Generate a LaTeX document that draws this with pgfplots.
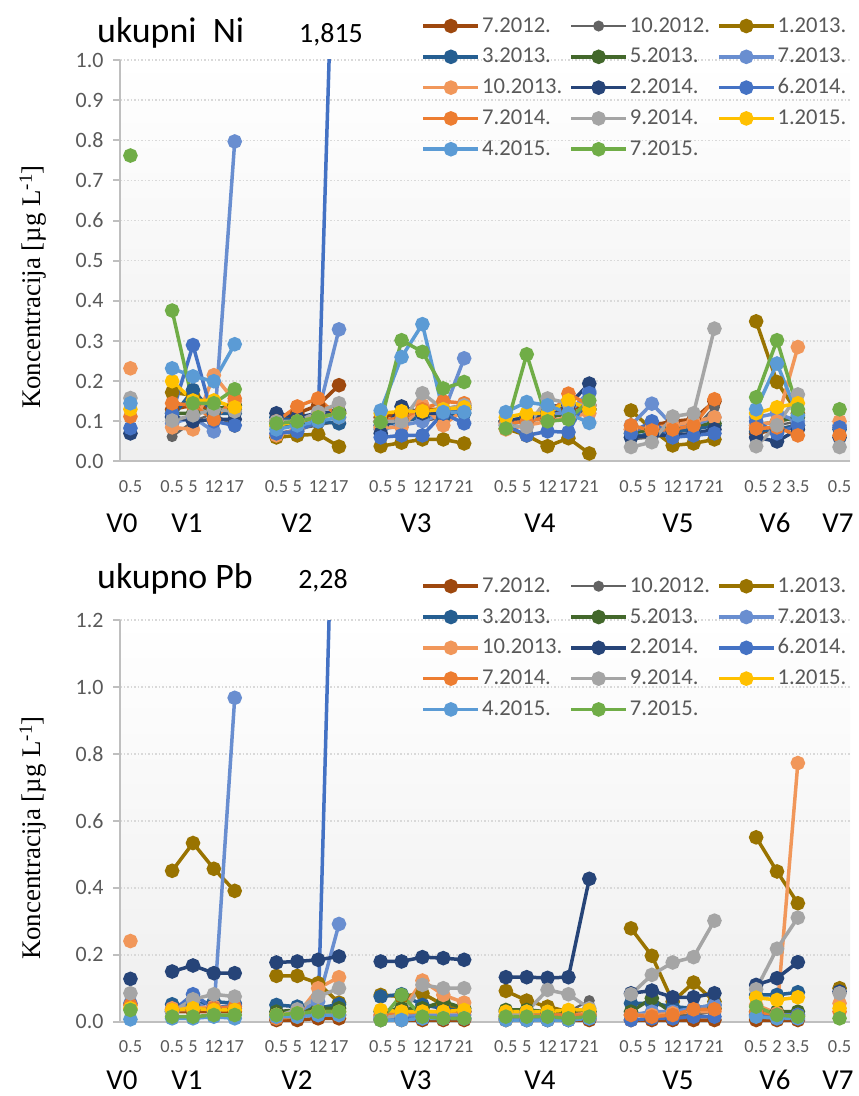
\documentclass[border=0pt]{standalone}
\usepackage{fontspec}
\setmainfont{Carlito}
\newfontfamily\timesfont{Liberation Serif}
\usepackage{pgfplots}
\usepackage{pgfplotstable}
\pgfplotsset{compat=1.18}

\definecolor{sA}{HTML}{9E480E}
\definecolor{sB}{HTML}{636363}
\definecolor{sC}{HTML}{997300}
\definecolor{sD}{HTML}{255E91}
\definecolor{sE}{HTML}{43682B}
\definecolor{sF}{HTML}{698ED0}
\definecolor{sG}{HTML}{F1975A}
\definecolor{sH}{HTML}{264478}
\definecolor{sI}{HTML}{4472C4}
\definecolor{sJ}{HTML}{ED7D31}
\definecolor{sK}{HTML}{A5A5A5}
\definecolor{sL}{HTML}{FFC000}
\definecolor{sM}{HTML}{5B9BD5}
\definecolor{sN}{HTML}{70AD47}
\definecolor{txtgray}{HTML}{595959}
\definecolor{spine}{HTML}{BFBFBF}
\definecolor{gridc}{HTML}{D9D9D9}
\definecolor{bgc}{HTML}{EFEFEF}

\pgfplotstableread{
x a b c d e f g h i j k l m n
0 nan nan nan nan nan nan 0.232 0.070 0.083 0.112 0.158 0.130 0.145 0.762
1 nan nan nan nan nan nan nan nan nan nan nan nan nan nan
2 0.130 0.062 0.172 0.110 0.120 0.095 0.085 0.112 0.120 0.145 0.102 0.200 0.232 0.376
3 0.140 0.100 0.165 0.178 0.120 0.110 0.080 0.100 0.290 0.140 0.115 0.152 0.212 0.145
4 0.130 0.120 0.130 0.120 0.130 0.075 0.215 0.105 0.100 0.105 0.130 0.152 0.200 0.145
5 0.140 0.085 0.130 0.120 0.140 0.797 0.150 0.105 0.090 0.157 0.125 0.135 0.292 0.180
6 nan nan nan nan nan nan nan nan nan nan nan nan nan nan
7 0.100 0.070 0.060 0.110 0.090 0.090 0.065 0.120 0.070 0.100 0.100 0.090 0.080 0.095
8 0.120 0.080 0.065 0.100 0.095 0.100 0.080 0.110 0.075 0.137 0.100 0.100 0.090 0.100
9 0.140 0.090 0.068 0.100 0.110 0.120 0.110 0.120 0.100 0.157 0.123 0.110 0.100 0.110
10 0.190 0.100 0.037 0.095 0.120 0.329 0.120 0.125 1.815 0.110 0.145 0.120 0.110 0.120
11 nan nan nan nan nan nan nan nan nan nan nan nan nan nan
12 0.110 0.080 0.038 0.090 0.100 0.080 0.085 0.070 0.060 0.100 0.100 0.120 0.127 0.098
13 0.120 0.090 0.047 0.100 0.110 0.090 0.085 0.137 0.065 0.110 0.100 0.125 0.260 0.302
14 0.130 0.100 0.055 0.110 0.120 0.100 0.140 0.120 0.065 0.130 0.170 0.125 0.342 0.273
15 0.130 0.110 0.055 0.110 0.120 0.120 0.090 0.120 0.120 0.150 0.130 0.130 0.123 0.182
16 0.140 0.120 0.045 0.120 0.130 0.257 0.130 0.135 0.095 0.145 0.140 0.135 0.123 0.198
17 nan nan nan nan nan nan nan nan nan nan nan nan nan nan
18 0.100 0.090 0.082 0.100 0.100 0.100 0.080 0.100 0.090 0.095 0.090 0.110 0.123 0.082
19 0.110 0.100 0.065 0.100 0.110 0.110 0.090 0.110 0.065 0.100 0.086 0.120 0.148 0.267
20 0.120 0.140 0.038 0.110 0.110 0.120 0.100 0.120 0.075 0.110 0.157 0.120 0.140 0.100
21 0.130 0.140 0.058 0.120 0.120 0.120 0.110 0.140 0.073 0.169 0.145 0.152 0.120 0.105
22 0.140 0.150 0.020 0.130 0.130 0.175 0.120 0.194 0.170 0.140 0.140 0.130 0.096 0.152
23 nan nan nan nan nan nan nan nan nan nan nan nan nan nan
24 0.080 0.055 0.127 0.060 0.070 0.090 0.080 0.060 0.070 0.090 0.036 nan nan nan
25 0.090 0.060 0.080 0.070 0.080 0.144 0.085 0.065 0.100 0.077 0.048 nan nan nan
26 0.100 0.070 0.040 0.075 0.085 0.090 0.090 0.065 0.060 0.080 0.112 nan nan nan
27 0.105 0.080 0.045 0.080 0.090 0.090 0.100 0.070 0.065 0.090 0.120 nan nan nan
28 0.150 0.135 0.055 0.090 0.095 0.110 0.110 0.080 0.070 0.155 0.331 nan nan nan
29 nan nan nan nan nan nan nan nan nan nan nan nan nan nan
30 0.070 0.080 0.349 0.075 0.090 0.110 0.090 0.060 0.100 0.082 0.038 0.120 0.130 0.160
31 0.080 0.090 0.198 0.080 0.100 0.120 0.100 0.050 0.070 0.085 0.090 0.135 0.244 0.302
32 0.090 0.100 0.120 0.090 0.110 0.100 0.285 0.080 0.090 0.065 0.167 0.145 0.115 0.130
33 nan nan nan nan nan nan nan nan nan nan nan nan nan nan
34 nan nan nan 0.080 nan 0.090 0.100 0.060 0.085 0.065 0.036 nan nan 0.130
}\nitable

\pgfplotstableread{
x a b c d e f g h i j k l m n
0 nan nan nan nan nan nan 0.241 0.128 0.055 0.050 0.085 0.040 0.007 0.035
1 nan nan nan nan nan nan nan nan nan nan nan nan nan nan
2 0.030 0.040 0.451 0.052 0.035 0.030 0.040 0.150 0.030 0.035 0.030 0.035 0.010 0.015
3 0.030 0.040 0.534 0.050 0.035 0.060 0.040 0.168 0.082 0.035 0.067 0.040 0.010 0.015
4 0.030 0.040 0.457 0.060 0.040 0.030 0.045 0.145 0.040 0.040 0.082 0.035 0.015 0.020
5 0.030 0.050 0.391 0.055 0.040 0.968 0.045 0.145 0.050 0.045 0.075 0.035 0.010 0.020
6 nan nan nan nan nan nan nan nan nan nan nan nan nan nan
7 0.005 0.010 0.137 0.050 0.030 0.020 0.020 0.177 0.010 0.010 0.015 0.020 0.015 0.020
8 0.005 0.020 0.137 0.045 0.035 0.030 0.020 0.180 0.020 0.015 0.037 0.025 0.015 0.025
9 0.010 0.030 0.115 0.040 0.040 0.060 0.100 0.185 0.020 0.030 0.075 0.030 0.020 0.030
10 0.010 0.040 0.057 0.052 0.040 0.292 0.133 0.195 2.280 0.020 0.100 0.030 0.020 0.030
11 nan nan nan nan nan nan nan nan nan nan nan nan nan nan
12 0.005 0.030 0.080 0.075 0.030 0.015 0.020 0.180 0.010 0.020 0.010 0.035 0.005 0.005
13 0.005 0.030 0.075 0.082 0.040 0.020 0.030 0.180 0.010 0.025 0.020 0.030 0.005 0.080
14 0.005 0.030 0.085 0.050 0.040 0.020 0.123 0.193 0.010 0.030 0.110 0.030 0.010 0.015
15 0.005 0.030 0.050 0.040 0.060 0.020 0.080 0.190 0.010 0.030 0.100 0.030 0.010 0.010
16 0.005 0.030 0.030 0.030 0.040 0.020 0.057 0.185 0.010 0.030 0.100 0.035 0.010 0.010
17 nan nan nan nan nan nan nan nan nan nan nan nan nan nan
18 0.005 0.030 0.092 0.030 0.035 0.010 0.020 0.133 0.010 0.015 0.020 0.030 0.005 0.015
19 0.005 0.030 0.063 0.030 0.035 0.010 0.020 0.133 0.005 0.015 0.030 0.030 0.005 0.015
20 0.005 0.030 0.045 0.025 0.030 0.010 0.020 0.131 0.005 0.020 0.095 0.030 0.005 0.015
21 0.005 0.030 0.030 0.020 0.030 0.010 0.020 0.133 0.005 0.020 0.082 0.035 0.005 0.010
22 0.005 0.063 0.020 0.030 0.030 0.015 0.025 0.427 0.010 0.020 0.040 0.035 0.010 0.015
23 nan nan nan nan nan nan nan nan nan nan nan nan nan nan
24 0.005 0.020 0.279 0.055 0.030 0.020 0.020 0.085 0.005 0.020 0.082 nan nan nan
25 0.005 0.020 0.197 0.055 0.070 0.030 0.020 0.093 0.010 0.015 0.140 nan nan nan
26 0.005 0.020 0.060 0.045 0.025 0.030 0.025 0.073 0.010 0.020 0.177 nan nan nan
27 0.005 0.020 0.117 0.040 0.030 0.040 0.030 0.073 0.015 0.037 0.193 nan nan nan
28 0.005 0.030 0.060 0.050 0.040 0.050 0.030 0.085 0.015 0.037 0.302 nan nan nan
29 nan nan nan nan nan nan nan nan nan nan nan nan nan nan
30 0.005 0.020 0.551 0.080 0.030 0.020 0.050 0.110 0.020 0.030 0.097 0.072 0.015 0.045
31 0.005 0.020 0.449 0.080 0.030 0.020 0.025 0.130 0.020 0.020 0.218 0.065 0.010 0.020
32 0.005 0.020 0.354 0.088 0.030 0.020 0.773 0.178 0.020 0.015 0.311 0.073 0.010 0.015
33 nan nan nan nan nan nan nan nan nan nan nan nan nan nan
34 nan nan 0.100 nan nan nan 0.055 0.090 nan 0.030 0.085 0.040 nan 0.010
}\pbtable

\pgfplotsset{
  ser/.style={color=#1, mark=*, mark options={solid}, line width=3.5bp, mark size=5.5bp},
  serthin/.style={color=#1, mark=*, mark options={solid}, line width=2.3bp, mark size=4.3bp},
  mystyle/.style={
    scale only axis, width=730bp, height=401.5bp,
    xmin=-0.5, xmax=34.5, ymin=0,
    axis lines*=left,
    axis line style={draw=spine, line width=2bp},
    xtick={0,2,3,4,5,7,8,9,10,12,13,14,15,16,18,19,20,21,22,24,25,26,27,28,30,31,32,34},
    xticklabels={0.5,0.5,5,12,17,0.5,5,12,17,0.5,5,12,17,21,0.5,5,12,17,21,0.5,5,12,17,21,0.5,2,3.5,0.5},
    x tick style={draw=none},
    y tick style={draw=spine, line width=2bp},
    tick align=outside, major tick length=7bp,
    ymajorgrids, major grid style={draw=gridc, line width=1.5bp, dash pattern=on 1.5bp off 2bp},
    tick label style={text=txtgray},
    /pgf/number format/assume math mode=true,
    xticklabel style={font=\fontsize{18.5}{20}\selectfont, anchor=base, yshift=-24bp},
    yticklabel style={font=\fontsize{22}{24}\selectfont, anchor=east, xshift=-6bp},
    axis background/.style={top color=white, bottom color=bgc},
    unbounded coords=jump,
    legend columns=3,
    legend cell align=left,
    legend style={draw=none, fill=none, font=\fontsize{22.7}{27}\selectfont, text=txtgray,
      at={(0.413,1.110)}, anchor=north west, inner sep=0pt,
      nodes={inner xsep=0bp, inner ysep=0bp, text height=16bp, text depth=4bp},
      row sep=10.8bp,
      /tikz/every odd column/.append style={column sep=2bp},
      /tikz/every even column/.append style={column sep=7bp}},
    legend image code/.code={\draw[mark repeat=2,mark phase=2,##1] plot coordinates {(0bp,0bp) (27.5bp,0bp) (55bp,0bp)};},
    legend entries={7.2012.,10.2012.,1.2013.,3.2013.,5.2013.,7.2013.,10.2013.,2.2014.,6.2014.,7.2014.,9.2014.,1.2015.,4.2015.,7.2015.},
  }
}

\begin{document}
\begin{tikzpicture}
\path[use as bounding box] (0,0) rectangle (859bp,1096bp);
\begin{axis}[mystyle, at={(120bp,634.5bp)}, anchor=south west, ymax=1,
  ytick={0,0.1,0.2,0.3,0.4,0.5,0.6,0.7,0.8,0.9,1.0},
  yticklabels={0.0,0.1,0.2,0.3,0.4,0.5,0.6,0.7,0.8,0.9,1.0}]
\addplot[ser=sA] table[x=x,y=a]{\nitable};
\addplot[serthin=sB] table[x=x,y=b]{\nitable};
\addplot[ser=sC] table[x=x,y=c]{\nitable};
\addplot[ser=sD] table[x=x,y=d]{\nitable};
\addplot[ser=sE] table[x=x,y=e]{\nitable};
\addplot[ser=sF] table[x=x,y=f]{\nitable};
\addplot[ser=sG] table[x=x,y=g]{\nitable};
\addplot[ser=sH] table[x=x,y=h]{\nitable};
\addplot[ser=sI] table[x=x,y=i]{\nitable};
\addplot[ser=sJ] table[x=x,y=j]{\nitable};
\addplot[ser=sK] table[x=x,y=k]{\nitable};
\addplot[ser=sL] table[x=x,y=l]{\nitable};
\addplot[ser=sM] table[x=x,y=m]{\nitable};
\addplot[ser=sN] table[x=x,y=n]{\nitable};
\end{axis}
\begin{axis}[mystyle, at={(120bp,74.3bp)}, anchor=south west, ymax=1.2,
  ytick={0,0.2,0.4,0.6,0.8,1.0,1.2},
  yticklabels={0.0,0.2,0.4,0.6,0.8,1.0,1.2}]
\addplot[ser=sA] table[x=x,y=a]{\pbtable};
\addplot[serthin=sB] table[x=x,y=b]{\pbtable};
\addplot[ser=sC] table[x=x,y=c]{\pbtable};
\addplot[ser=sD] table[x=x,y=d]{\pbtable};
\addplot[ser=sE] table[x=x,y=e]{\pbtable};
\addplot[ser=sF] table[x=x,y=f]{\pbtable};
\addplot[ser=sG] table[x=x,y=g]{\pbtable};
\addplot[ser=sH] table[x=x,y=h]{\pbtable};
\addplot[ser=sI] table[x=x,y=i]{\pbtable};
\addplot[ser=sJ] table[x=x,y=j]{\pbtable};
\addplot[ser=sK] table[x=x,y=k]{\pbtable};
\addplot[ser=sL] table[x=x,y=l]{\pbtable};
\addplot[ser=sM] table[x=x,y=m]{\pbtable};
\addplot[ser=sN] table[x=x,y=n]{\pbtable};
\end{axis}
% titles
\node[anchor=base west, font=\fontsize{36}{40}\selectfont, inner sep=0pt] at (97bp,1053bp) {ukupni\ \ Ni};
\node[anchor=base, font=\fontsize{28}{32}\selectfont, inner sep=0pt] at (331bp,1053bp) {1,815};
\node[anchor=base west, font=\fontsize{36}{40}\selectfont, inner sep=0pt] at (97bp,507bp) {ukupno Pb};
\node[anchor=base, font=\fontsize{28}{32}\selectfont, inner sep=0pt] at (323bp,507bp) {2,28};
% y labels
\node[rotate=90, font=\timesfont\fontsize{27}{30}\selectfont, inner sep=0pt] at (33bp,809bp) {Koncentracija [µg L\textsuperscript{-1}]};
\node[rotate=90, font=\timesfont\fontsize{27}{30}\selectfont, inner sep=0pt] at (33bp,258bp) {Koncentracija [µg L\textsuperscript{-1}]};
% group labels
\foreach \lab/\xx in {V0/122,V1/187,V2/297,V3/416,V4/540,V5/678,V6/775,V7/838}{
  \node[anchor=base, font=\fontsize{29}{32}\selectfont, inner sep=0pt] at (\xx bp,563bp) {\lab};
  \node[anchor=base, font=\fontsize{29}{32}\selectfont, inner sep=0pt] at (\xx bp,7bp) {\lab};
}
\end{tikzpicture}
\end{document}
